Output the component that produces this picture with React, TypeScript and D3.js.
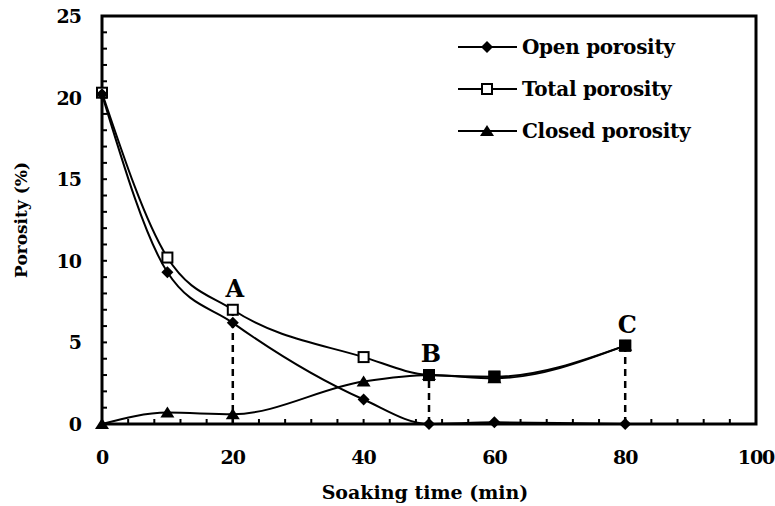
import * as d3 from "d3";
import { useRef, useEffect } from "react";

// soaking time (min)
const times = [0, 10, 20, 40, 50, 60, 80];
// porosity (%)
const openPorosity = [20.2, 9.3, 6.2, 1.5, 0, 0.1, 0];
const totalPorosity = [20.3, 10.2, 7.0, 4.1, 3.0, 2.9, 4.8];
const closedPorosity = [0, 0.7, 0.6, 2.6, 3.0, 2.8, 4.8];

const seriesNames = ["Open porosity", "Total porosity", "Closed porosity"];
const markerKinds = ["diamond", "square", "triangle"];

const xTicks = [0, 20, 40, 60, 80, 100];
const yTicks = [0, 5, 10, 15, 20, 25];

// dashed drop lines + letters
const markTimes = [20, 50, 80];
const markLetters = ["A", "B", "C"];

const W = 775;
const H = 506;
const marginTop = 16;
const marginRight = 19;
const marginBottom = 82;
const marginLeft = 102;

const FONT = "'DejaVu Serif', serif";

const App = () => {
  const ref = useRef(null);

  useEffect(() => {
    const svg = d3.select(ref.current);
    svg.selectAll("*").remove();

    const x = d3.scaleLinear().domain([0, 100]).range([marginLeft, W - marginRight]);
    const y = d3.scaleLinear().domain([0, 25]).range([H - marginBottom, marginTop]);

    const all = [openPorosity, totalPorosity, closedPorosity];

    // frame
    svg.append("rect")
      .attr("x", x(0)).attr("y", y(25))
      .attr("width", x(100) - x(0)).attr("height", y(0) - y(25))
      .attr("fill", "none").attr("stroke", "#000").attr("stroke-width", 3);

    // minor ticks, pointing inward
    const g = svg.append("g");
    d3.range(0, 101, 4).forEach((t) => {
      g.append("line")
        .attr("x1", x(t)).attr("x2", x(t))
        .attr("y1", y(0)).attr("y2", y(0) - 5)
        .attr("stroke", "#000").attr("stroke-width", 2);
    });
    d3.range(0, 26, 1).forEach((t) => {
      g.append("line")
        .attr("x1", x(0)).attr("x2", x(0) + 5)
        .attr("y1", y(t)).attr("y2", y(t))
        .attr("stroke", "#000").attr("stroke-width", 2);
    });

    // tick labels
    svg.append("g").selectAll("text").data(xTicks).enter().append("text")
      .attr("x", (d) => x(d)).attr("y", y(0) + 40)
      .attr("text-anchor", "middle")
      .attr("font-family", FONT).attr("font-weight", "bold").attr("font-size", 19)
      .attr("letter-spacing", -1)
      .text((d) => d);
    svg.append("g").selectAll("text").data(yTicks).enter().append("text")
      .attr("x", x(0) - 21).attr("y", (d) => y(d) + 7)
      .attr("text-anchor", "end")
      .attr("font-family", FONT).attr("font-weight", "bold").attr("font-size", 19)
      .attr("letter-spacing", -1)
      .text((d) => d);

    // axis titles
    svg.append("text")
      .attr("x", (x(0) + x(100)) / 2 - 4).attr("y", H - 7)
      .attr("text-anchor", "middle")
      .attr("font-family", FONT).attr("font-weight", "bold").attr("font-size", 19)
      .text("Soaking time (min)");
    svg.append("text")
      .attr("transform", `translate(27,${(y(0) + y(25)) / 2}) rotate(-90)`)
      .attr("text-anchor", "middle")
      .attr("font-family", FONT).attr("font-weight", "bold").attr("font-size", 17)
      .text("Porosity (%)");

    // dashed drop lines
    markTimes.forEach((t, i) => {
      const idx = times.indexOf(t);
      svg.append("line")
        .attr("x1", x(t)).attr("x2", x(t))
        .attr("y1", y(0)).attr("y2", y(totalPorosity[idx]))
        .attr("stroke", "#000").attr("stroke-width", 2.5)
        .attr("stroke-dasharray", "7,5");
      svg.append("text")
        .attr("x", x(t) + 2).attr("y", y(totalPorosity[idx]) - 13)
        .attr("text-anchor", "middle")
        .attr("font-family", FONT).attr("font-weight", "bold").attr("font-size", 24)
        .text(markLetters[i]);
    });

    // series
    const line = d3.line()
      .x((d) => x(d[0]))
      .y((d) => y(d[1]))
      .curve(d3.curveMonotoneX);

    all.forEach((vals) => {
      svg.append("path")
        .datum(times.map((t, i) => [t, vals[i]]))
        .attr("d", line)
        .attr("fill", "none").attr("stroke", "#000").attr("stroke-width", 2);
    });

    const drawMarker = (sel, kind, cx, cy) => {
      if (kind === "diamond") {
        sel.append("path")
          .attr("d", `M${cx},${cy - 6}L${cx + 6},${cy}L${cx},${cy + 6}L${cx - 6},${cy}Z`)
          .attr("fill", "#000");
      } else if (kind === "square") {
        sel.append("rect")
          .attr("x", cx - 5).attr("y", cy - 5).attr("width", 10).attr("height", 10)
          .attr("fill", "#fff").attr("stroke", "#000").attr("stroke-width", 2);
      } else {
        sel.append("path")
          .attr("d", `M${cx},${cy - 6}L${cx + 7},${cy + 5}L${cx - 7},${cy + 5}Z`)
          .attr("fill", "#000");
      }
    };

    const mg = svg.append("g");
    // draw total first so filled markers overlap where points coincide
    [1, 0, 2].forEach((s) => {
      times.forEach((t, i) => {
        drawMarker(mg, markerKinds[s], x(t), y(all[s][i]));
      });
    });
    // where closed == total the square looks filled
    times.forEach((t, i) => {
      if (Math.abs(totalPorosity[i] - closedPorosity[i]) < 0.3) {
        mg.append("rect")
          .attr("x", x(t) - 6).attr("y", y(totalPorosity[i]) - 6)
          .attr("width", 12).attr("height", 12).attr("fill", "#000");
      }
    });

    // legend
    const lg = svg.append("g");
    seriesNames.forEach((name, i) => {
      const ly = 47 + i * 42;
      lg.append("line")
        .attr("x1", 458).attr("x2", 517).attr("y1", ly).attr("y2", ly)
        .attr("stroke", "#000").attr("stroke-width", 2);
      drawMarker(lg, markerKinds[i], 487, ly);
      lg.append("text")
        .attr("x", 522).attr("y", ly + 7)
        .attr("font-family", FONT).attr("font-weight", "bold").attr("font-size", 20)
        .attr("letter-spacing", -0.3)
        .text(name);
    });
  }, []);

  return (
    <svg ref={ref} width={W} height={H} style={{ display: "block", position: "absolute", left: 0, top: 0, background: "#fff" }} />
  );
};

export default App;
